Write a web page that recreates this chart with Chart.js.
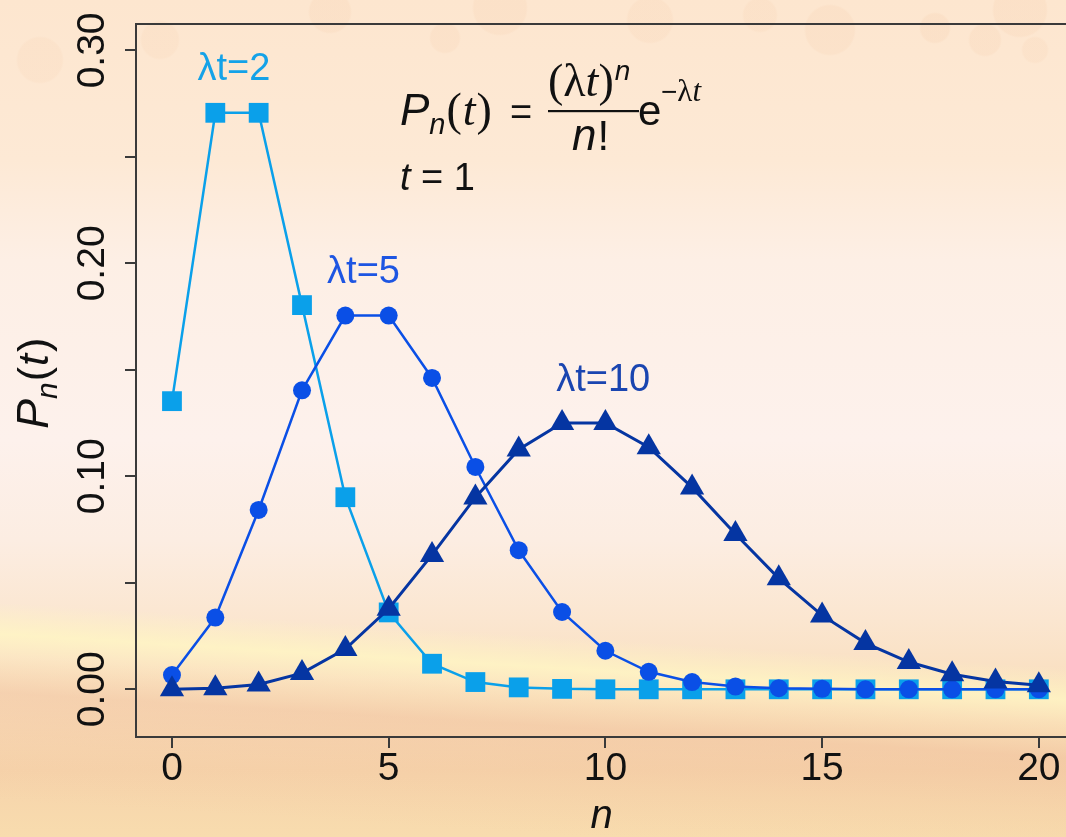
<!DOCTYPE html>
<html><head><meta charset="utf-8">
<script src="https://cdn.jsdelivr.net/npm/chart.js@4.4.0/dist/chart.umd.min.js"></script>
<style>
html,body{margin:0;padding:0;width:1066px;height:837px;overflow:hidden;}
body{
background:
 radial-gradient(circle at 330px 12px, rgba(240,190,150,0.13) 20px, transparent 22px),
 radial-gradient(circle at 445px 38px, rgba(240,190,150,0.12) 14px, transparent 16px),
 radial-gradient(circle at 500px 8px, rgba(240,190,150,0.12) 26px, transparent 28px),
 radial-gradient(circle at 650px 20px, rgba(240,190,150,0.11) 22px, transparent 24px),
 radial-gradient(circle at 760px 15px, rgba(240,190,150,0.11) 16px, transparent 18px),
 radial-gradient(circle at 830px 30px, rgba(240,190,150,0.12) 24px, transparent 26px),
 radial-gradient(circle at 935px 28px, rgba(240,190,150,0.14) 14px, transparent 16px),
 radial-gradient(circle at 985px 40px, rgba(240,190,150,0.13) 15px, transparent 17px),
 radial-gradient(circle at 1035px 50px, rgba(240,190,150,0.11) 12px, transparent 14px),
 radial-gradient(circle at 40px 60px, rgba(240,190,150,0.10) 22px, transparent 24px),
 radial-gradient(circle at 160px 40px, rgba(240,190,150,0.10) 18px, transparent 20px),
 radial-gradient(circle at 1020px 10px, rgba(240,190,150,0.13) 26px, transparent 28px),
 linear-gradient(183.5deg, transparent 0%, transparent 74%, rgba(255,246,196,0.8) 77.5%, rgba(255,240,190,0.3) 80%, rgba(238,185,150,0.35) 84%, rgba(240,190,150,0.15) 90%, transparent 96%),
 linear-gradient(180deg, #fde6cf 0px, #fde9d5 160px, #fdefe5 260px, #fdf1ec 440px, #fcede2 540px, #fbe6d0 620px, #f9ddbb 700px, #f6d3ab 770px, #f8dcae 837px);
}
#wrap{position:relative;width:1081px;height:837px;}
</style></head><body><div id="wrap"><canvas id="c"></canvas></div>
<script>
const nValues = [0,1,2,3,4,5,6,7,8,9,10,11,12,13,14,15,16,17,18,19,20];
const p2  = [0.1353,0.2707,0.2707,0.1804,0.0902,0.0361,0.0120,0.0034,0.0009,0.0002,0.0000,0.0000,0.0000,0.0000,0.0000,0.0000,0.0000,0.0000,0.0000,0.0000,0.0000];
const p5  = [0.0067,0.0337,0.0842,0.1404,0.1755,0.1755,0.1462,0.1044,0.0653,0.0363,0.0181,0.0082,0.0034,0.0013,0.0005,0.0002,0.0000,0.0000,0.0000,0.0000,0.0000];
const p10 = [0.0000,0.0005,0.0023,0.0076,0.0189,0.0378,0.0631,0.0901,0.1126,0.1251,0.1251,0.1137,0.0948,0.0729,0.0521,0.0347,0.0217,0.0128,0.0071,0.0037,0.0019];
const xTickValues = [0,5,10,15,20];
const yTickValues = [0,0.05,0.10,0.15,0.20,0.25,0.30];
const yLabeledTicks = [0,0.10,0.20,0.30];
const seriesNames = ['\u03bbt=2','\u03bbt=5','\u03bbt=10'];
const seriesColors = ['#0aa0ea','#0a4fe6','#0535a2'];
const labelColors = ['#14a2e8','#1d55e2','#1a45b0'];
const labelPos = [[1.43,0.286],[4.42,0.191],[9.95,0.140]];

const AX = '#3a3a3a';
const pts = arr => nValues.map((n,i)=>({x:n,y:arr[i]}));

function drawRun(ctx, parts, x, y){
  let cx = x;
  for(const p of parts){
    ctx.font = p.f;
    cx += (p.dx||0);
    ctx.fillText(p.t, cx, y + (p.dy||0));
    cx += ctx.measureText(p.t).width;
  }
  return cx;
}

const annot = {
  id:'annot',
  afterDraw(chart){
    const ctx = chart.ctx, ca = chart.chartArea;
    const xs = chart.scales.x, ys = chart.scales.y;
    ctx.save();
    ctx.strokeStyle = AX; ctx.lineWidth = 2;
    ctx.beginPath(); ctx.moveTo(ca.left-1, ca.top); ctx.lineTo(ca.right, ca.top); ctx.stroke();
    ctx.textAlign='center'; ctx.textBaseline='alphabetic';
    ctx.font = '38px "Liberation Sans", Arial, sans-serif';
    seriesNames.forEach((s,i)=>{
      ctx.fillStyle = labelColors[i];
      ctx.fillText(s, xs.getPixelForValue(labelPos[i][0]), ys.getPixelForValue(labelPos[i][1]));
    });
    ctx.fillStyle='#111'; ctx.textAlign='left';
    const SI='italic 44px "Liberation Sans", Arial, sans-serif';
    const S='42px "Liberation Sans", Arial, sans-serif';
    const SR='46px "Liberation Serif", "Times New Roman", serif';
    const SRI='italic 46px "Liberation Serif", "Times New Roman", serif';
    drawRun(ctx,[{t:'P',f:SI},{t:'n',f:'italic 29px "Liberation Sans", Arial, sans-serif',dy:9},{t:'(',f:SR,dx:1},{t:'t',f:SRI,dx:1},{t:')',f:SR,dx:1}],400,125);
    drawRun(ctx,[{t:'=',f:'38px "Liberation Sans", Arial, sans-serif'}],510,125);
    const numEnd = drawRun(ctx,[{t:'(',f:SR},{t:'\u03bb',f:SR},{t:'t',f:SRI},{t:')',f:SR}],548,96);
    drawRun(ctx,[{t:'n',f:'italic 28px "Liberation Sans", Arial, sans-serif'}],numEnd+1,80);
    ctx.fillRect(548,110,91,2.2);
    drawRun(ctx,[{t:'n',f:SI},{t:'!',f:S,dx:1}],572,150);
    drawRun(ctx,[{t:'e',f:S}],638,125);
    drawRun(ctx,[{t:'\u2212',f:'28px "Liberation Sans", Arial, sans-serif'},{t:'\u03bb',f:'31px "Liberation Serif", serif'},{t:'t',f:'italic 31px "Liberation Serif", serif'}],661,101);
    drawRun(ctx,[{t:'t',f:'italic 38px "Liberation Sans", Arial, sans-serif'},{t:' = ',f:'38px "Liberation Sans", Arial, sans-serif'},{t:'1',f:'38px "Liberation Sans", Arial, sans-serif'}],400,190);
    ctx.save();
    ctx.translate(48, 429);
    ctx.rotate(-Math.PI/2);
    drawRun(ctx,[{t:'P',f:'italic 45px "Liberation Sans", Arial, sans-serif'},{t:'n',f:'italic 30px "Liberation Sans", Arial, sans-serif',dy:9},{t:'(',f:'43px "Liberation Sans", Arial, sans-serif',dx:1},{t:'t',f:'italic 43px "Liberation Sans", Arial, sans-serif',dx:1},{t:')',f:'43px "Liberation Sans", Arial, sans-serif',dx:2}],0,0);
    ctx.restore();
    ctx.restore();
  }
};

const tickFont = {family:'"Liberation Sans", Arial, sans-serif', size:39};

new Chart(document.getElementById('c'),{
  type:'line',
  data:{datasets:[
    {label:seriesNames[0],data:pts(p2),borderColor:seriesColors[0],backgroundColor:seriesColors[0],borderWidth:2.5,pointStyle:'rect',pointRadius:14,pointBorderWidth:0,order:3},
    {label:seriesNames[1],data:pts(p5),borderColor:seriesColors[1],backgroundColor:seriesColors[1],borderWidth:2.5,pointStyle:'circle',pointRadius:9,pointBorderWidth:0,order:2},
    {label:seriesNames[2],data:pts(p10),borderColor:seriesColors[2],backgroundColor:seriesColors[2],borderWidth:3,pointStyle:'triangle',pointRadius:14,pointBorderWidth:0,order:1}
  ]},
  options:{
    responsive:true, maintainAspectRatio:false, animation:false,
    layout:{padding:{top:24,left:0,right:0,bottom:0}},
    plugins:{legend:{display:false},tooltip:{enabled:false}},
    elements:{line:{tension:0}},
    scales:{
      x:{type:'linear',min:-0.83,max:20.65,
        afterBuildTicks:s=>{s.ticks = xTickValues.map(v=>({value:v}));},
        afterFit:s=>{s.height=100; s.paddingLeft=0; s.paddingRight=0;},
        ticks:{font:tickFont,color:'#111',padding:-2,maxRotation:0,callback:v=>String(v)},
        grid:{drawOnChartArea:false,drawTicks:true,tickLength:11,color:AX,lineWidth:2},
        border:{display:true,color:AX,width:2},
        title:{display:true,text:'n',color:'#111',font:{family:'"Liberation Sans", Arial, sans-serif',size:40,style:'italic'},padding:{top:0,bottom:-4}}
      },
      y:{type:'linear',min:-0.0224,max:0.3124,
        afterBuildTicks:s=>{s.ticks = yTickValues.map(v=>({value:v}));},
        afterFit:s=>{s.width=136; s.paddingTop=0; s.paddingBottom=0;},
        ticks:{font:tickFont,color:'#111',padding:-6,minRotation:90,maxRotation:90,crossAlign:'center',
          callback:v=> yLabeledTicks.some(t=>Math.abs(t-v)<1e-9) ? v.toFixed(2) : ''},
        grid:{drawOnChartArea:false,drawTicks:true,tickLength:11,color:AX,lineWidth:2},
        border:{display:true,color:AX,width:2}
      }
    }
  },
  plugins:[annot]
});
</script></body></html>
